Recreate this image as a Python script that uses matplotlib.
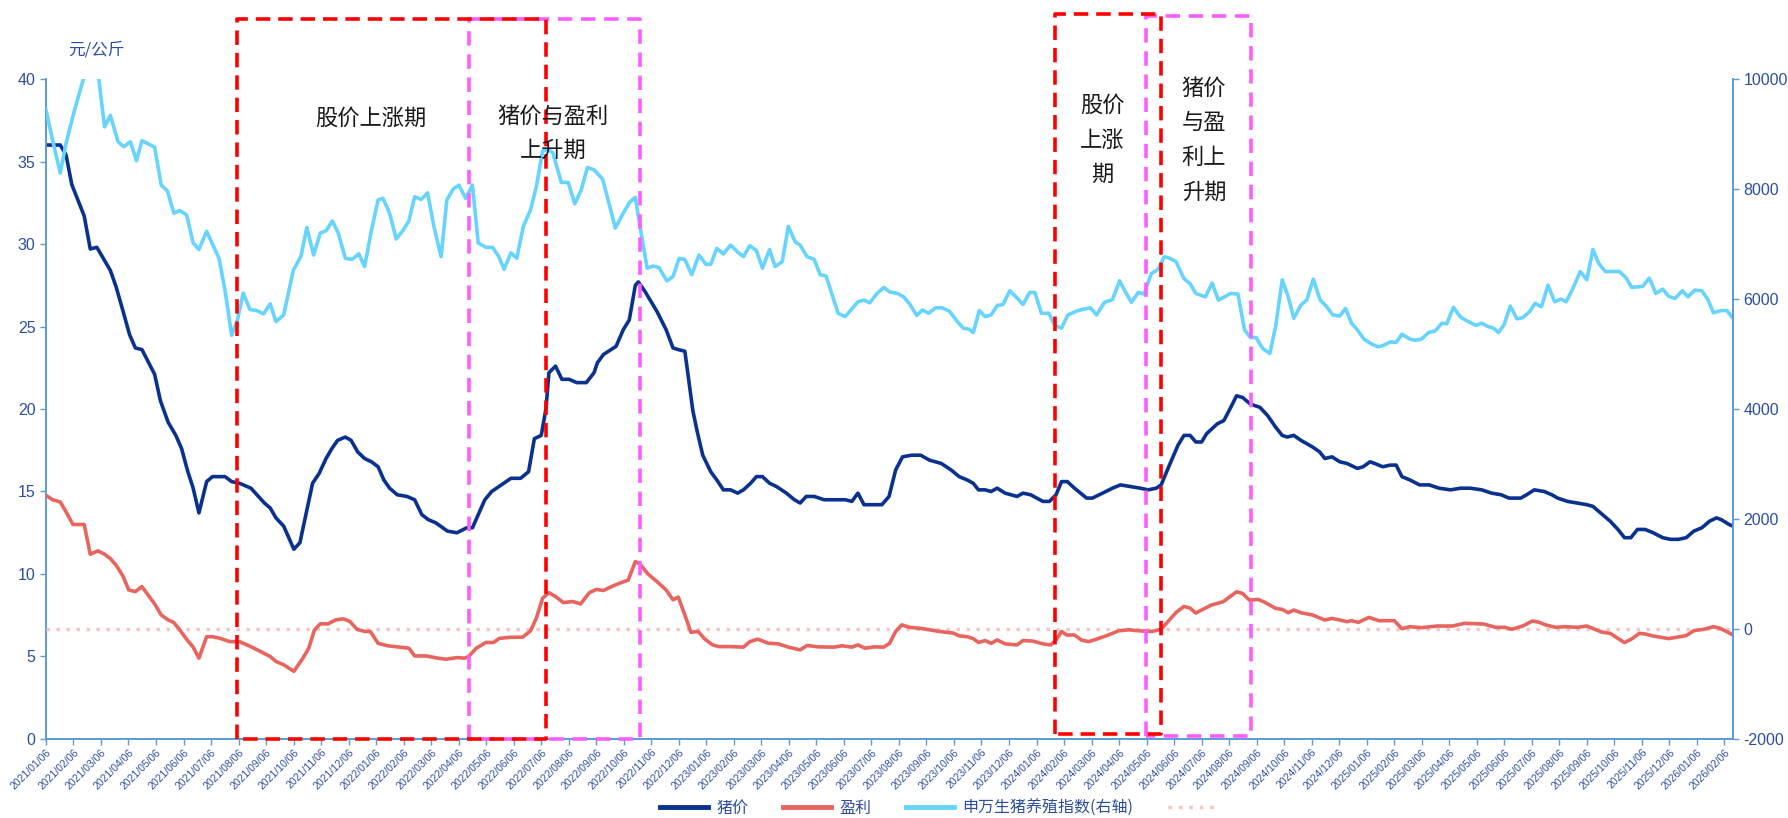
import matplotlib.pyplot as plt
from matplotlib.lines import Line2D
import matplotlib.transforms as mtransforms

plt.rcParams['font.family'] = ['Liberation Sans', 'Noto Sans CJK SC']
plt.rcParams['axes.unicode_minus'] = False

# x = months since 2021/01/06 (weekly data)
price_pts = [
    (0.00, 36.0), (0.52, 36.0), (0.73, 35.4), (0.94, 33.6), (1.39, 31.7), (1.61, 29.7), (1.85, 29.8), (2.34, 28.4), (2.55, 27.4), (2.79, 26.0),
    (3.04, 24.5), (3.25, 23.7), (3.49, 23.6), (3.95, 22.1), (4.16, 20.5), (4.44, 19.2), (4.72, 18.4), (4.93, 17.6), (5.14, 16.3), (5.35, 15.2),
    (5.56, 13.7), (5.84, 15.6), (6.05, 15.9), (6.51, 15.9), (6.75, 15.6), (7.03, 15.5), (7.45, 15.2), (7.94, 14.3), (8.15, 14.0), (8.36, 13.4),
    (8.64, 12.9), (9.01, 11.5), (9.23, 11.9), (9.69, 15.5), (9.93, 16.1), (10.18, 17.0), (10.39, 17.6), (10.60, 18.1), (10.88, 18.3), (11.09, 18.1),
    (11.33, 17.4), (11.58, 17.0), (11.83, 16.8), (12.07, 16.5), (12.28, 15.7), (12.49, 15.2), (12.77, 14.8), (13.12, 14.7), (13.40, 14.5), (13.66, 13.6),
    (13.89, 13.3), (14.17, 13.1), (14.59, 12.6), (14.94, 12.5), (15.29, 12.8), (15.50, 12.8), (15.95, 14.5), (16.20, 15.0), (16.55, 15.4), (16.90, 15.8),
    (17.25, 15.8), (17.54, 16.2), (17.75, 18.2), (18.00, 18.4), (18.17, 20.0), (18.28, 22.2), (18.52, 22.6), (18.75, 21.8), (19.01, 21.8), (19.29, 21.6),
    (19.64, 21.6), (19.92, 22.2), (20.04, 22.8), (20.26, 23.3), (20.72, 23.8), (20.98, 24.8), (21.20, 25.4), (21.42, 27.5), (21.53, 27.7), (21.78, 27.1),
    (22.21, 25.9), (22.54, 24.8), (22.79, 23.7), (22.98, 23.6), (23.22, 23.5), (23.51, 19.9), (23.66, 18.7), (23.87, 17.2), (24.16, 16.2), (24.38, 15.7),
    (24.62, 15.1), (24.88, 15.1), (25.14, 14.9), (25.35, 15.1), (25.61, 15.5), (25.82, 15.9), (26.04, 15.9), (26.30, 15.5), (26.55, 15.3), (26.91, 14.9),
    (27.20, 14.5), (27.41, 14.3), (27.63, 14.7), (27.92, 14.7), (28.28, 14.5), (28.64, 14.5), (29.05, 14.5), (29.29, 14.4), (29.51, 14.9), (29.73, 14.2),
    (30.09, 14.2), (30.38, 14.2), (30.64, 14.7), (30.88, 16.3), (31.13, 17.1), (31.46, 17.2), (31.79, 17.2), (32.11, 16.9), (32.54, 16.7), (32.90, 16.3),
    (33.19, 15.9), (33.48, 15.7), (33.70, 15.5), (33.89, 15.1), (34.13, 15.1), (34.35, 15.0), (34.57, 15.2), (34.86, 14.9), (35.29, 14.7), (35.51, 14.9),
    (35.79, 14.8), (36.23, 14.4), (36.47, 14.4), (36.71, 14.8), (36.91, 15.6), (37.12, 15.6), (37.38, 15.2), (37.82, 14.6), (38.03, 14.6), (38.40, 14.9),
    (38.76, 15.2), (39.05, 15.4), (39.41, 15.3), (39.77, 15.2), (40.06, 15.1), (40.35, 15.2), (40.53, 15.4), (40.78, 16.4), (41.14, 17.8), (41.36, 18.4),
    (41.58, 18.4), (41.79, 18.0), (42.00, 18.0), (42.18, 18.5), (42.57, 19.1), (42.81, 19.3), (43.06, 20.1), (43.27, 20.8), (43.49, 20.7), (43.77, 20.3),
    (44.12, 20.1), (44.40, 19.6), (44.69, 18.9), (44.93, 18.4), (45.11, 18.3), (45.35, 18.4), (45.61, 18.1), (46.03, 17.7), (46.29, 17.4), (46.48, 17.0),
    (46.74, 17.1), (47.02, 16.8), (47.28, 16.7), (47.66, 16.4), (47.87, 16.5), (48.12, 16.8), (48.29, 16.7), (48.58, 16.5), (48.86, 16.6), (49.07, 16.6),
    (49.28, 15.9), (49.57, 15.7), (49.92, 15.4), (50.27, 15.4), (50.63, 15.2), (51.05, 15.1), (51.41, 15.2), (51.76, 15.2), (52.18, 15.1), (52.54, 14.9),
    (52.89, 14.8), (53.17, 14.6), (53.60, 14.6), (53.81, 14.8), (54.09, 15.1), (54.45, 15.0), (54.73, 14.8), (54.94, 14.6), (55.30, 14.4), (55.65, 14.3),
    (56.00, 14.2), (56.22, 14.1), (56.57, 13.6), (56.85, 13.2), (57.13, 12.7), (57.37, 12.2), (57.60, 12.2), (57.84, 12.7), (58.12, 12.7), (58.41, 12.5),
    (58.76, 12.2), (59.04, 12.1), (59.33, 12.1), (59.61, 12.2), (59.89, 12.6), (60.18, 12.8), (60.46, 13.2), (60.71, 13.4), (60.88, 13.3), (61.17, 13.0),
    (61.31, 12.9),
]

profit_pts = [
    (0.00, 2430), (0.24, 2350), (0.52, 2310), (0.73, 2130), (0.98, 1900), (1.39, 1900), (1.61, 1360), (1.89, 1420), (2.13, 1360), (2.34, 1280),
    (2.55, 1160), (2.79, 970), (3.01, 710), (3.25, 680), (3.49, 770), (3.74, 600), (3.95, 455), (4.19, 255), (4.44, 165), (4.65, 116),
    (4.86, -15), (5.11, -185), (5.35, -330), (5.56, -530), (5.84, -140), (6.05, -140), (6.33, -170), (6.68, -230), (7.03, -230), (7.38, -305),
    (7.80, -410), (8.15, -500), (8.36, -590), (8.64, -650), (9.01, -770), (9.34, -530), (9.55, -350), (9.76, -15), (9.97, 93), (10.25, 93),
    (10.53, 165), (10.81, 185), (11.05, 135), (11.30, -5), (11.58, -45), (11.79, -45), (12.07, -260), (12.42, -305), (12.84, -330), (13.19, -350),
    (13.40, -490), (13.82, -490), (14.24, -530), (14.52, -550), (14.94, -520), (15.22, -530), (15.36, -500), (15.64, -350), (15.99, -245), (16.27, -245),
    (16.48, -170), (16.90, -150), (17.32, -150), (17.61, -35), (17.82, 195), (18.05, 560), (18.28, 660), (18.52, 590), (18.80, 480), (19.15, 500),
    (19.43, 455), (19.75, 660), (20.00, 720), (20.26, 700), (20.55, 770), (20.84, 830), (21.16, 890), (21.42, 1225), (21.59, 1180), (21.88, 1000),
    (22.21, 860), (22.54, 710), (22.79, 530), (22.98, 580), (23.22, 255), (23.44, -60), (23.70, -45), (23.95, -185), (24.23, -290), (24.45, -320),
    (24.88, -320), (25.35, -330), (25.58, -230), (25.87, -185), (26.26, -260), (26.62, -270), (26.98, -330), (27.41, -380), (27.66, -300), (28.06, -325),
    (28.64, -330), (28.93, -305), (29.29, -330), (29.51, -290), (29.77, -350), (30.09, -325), (30.45, -330), (30.66, -260), (30.88, -45), (31.10, 75),
    (31.39, 30), (31.82, 10), (32.11, -15), (32.47, -45), (32.98, -75), (33.19, -125), (33.48, -140), (33.70, -175), (33.89, -245), (34.13, -210),
    (34.35, -260), (34.57, -200), (34.86, -270), (35.29, -290), (35.51, -210), (35.87, -220), (36.23, -270), (36.52, -290), (36.71, -200), (36.91, -45),
    (37.10, -110), (37.38, -110), (37.63, -200), (37.89, -230), (38.18, -185), (38.61, -110), (38.97, -35), (39.34, -15), (39.77, -35), (40.20, -45),
    (40.53, -5), (40.78, 135), (41.07, 300), (41.36, 410), (41.58, 380), (41.79, 290), (42.00, 344), (42.35, 435), (42.78, 495), (43.06, 598),
    (43.27, 676), (43.49, 646), (43.74, 525), (44.05, 537), (44.26, 495), (44.69, 375), (44.93, 356), (45.15, 296), (45.35, 344), (45.61, 296),
    (46.03, 254), (46.48, 163), (46.74, 193), (47.02, 163), (47.28, 133), (47.45, 151), (47.70, 121), (48.08, 211), (48.44, 151), (49.00, 151),
    (49.28, 6), (49.57, 42), (49.99, 24), (50.56, 54), (51.12, 54), (51.55, 103), (52.25, 91), (52.68, 30), (53.03, 30), (53.27, -6),
    (53.67, 54), (54.02, 145), (54.23, 127), (54.52, 72), (54.87, 30), (55.22, 42), (55.65, 30), (56.00, 54), (56.29, -6), (56.57, -60),
    (56.85, -79), (57.13, -169), (57.37, -248), (57.63, -181), (57.91, -79), (58.12, -91), (58.41, -127), (58.97, -175), (59.26, -151), (59.61, -121),
    (59.89, -30), (60.25, -6), (60.60, 42), (60.81, 18), (61.09, -48), (61.31, -109),
]

index_pts = [
    (0.00, 9440), (0.24, 8890), (0.52, 8290), (0.73, 8830), (1.01, 9380), (1.19, 9700), (1.36, 10000), (1.55, 10500), (1.75, 10400), (1.92, 10000),
    (2.13, 9130), (2.34, 9340), (2.62, 8860), (2.83, 8770), (3.07, 8860), (3.29, 8515), (3.49, 8880), (3.95, 8760), (4.19, 8070), (4.41, 7970),
    (4.65, 7560), (4.86, 7610), (5.11, 7530), (5.35, 7020), (5.56, 6900), (5.84, 7230), (6.29, 6740), (6.51, 6150), (6.75, 5340), (6.96, 5620),
    (7.17, 6110), (7.41, 5810), (7.66, 5790), (7.91, 5730), (8.15, 5910), (8.36, 5590), (8.64, 5710), (8.99, 6520), (9.27, 6780), (9.48, 7300),
    (9.73, 6800), (9.97, 7200), (10.18, 7240), (10.41, 7420), (10.63, 7190), (10.88, 6740), (11.13, 6720), (11.37, 6820), (11.58, 6590), (11.83, 7250),
    (12.07, 7800), (12.25, 7830), (12.49, 7560), (12.73, 7090), (12.98, 7250), (13.19, 7420), (13.40, 7860), (13.64, 7810), (13.87, 7930), (14.10, 7320),
    (14.36, 6770), (14.57, 7800), (14.80, 8000), (15.01, 8070), (15.25, 7830), (15.50, 8070), (15.71, 7020), (15.99, 6940), (16.23, 6940), (16.46, 6770),
    (16.65, 6540), (16.90, 6840), (17.11, 6740), (17.35, 7320), (17.61, 7620), (17.82, 8040), (18.05, 8690), (18.24, 8720), (18.42, 8660), (18.73, 8120),
    (18.98, 8120), (19.22, 7730), (19.45, 7980), (19.68, 8390), (19.92, 8350), (20.23, 8180), (20.48, 7710), (20.69, 7290), (20.95, 7530), (21.20, 7750),
    (21.42, 7850), (21.59, 7320), (21.85, 6560), (22.07, 6600), (22.28, 6570), (22.57, 6330), (22.79, 6410), (23.01, 6740), (23.22, 6720), (23.47, 6440),
    (23.73, 6800), (23.99, 6630), (24.16, 6630), (24.38, 6920), (24.62, 6820), (24.88, 6980), (25.17, 6840), (25.35, 6770), (25.58, 6970), (25.82, 6880),
    (26.04, 6560), (26.30, 6900), (26.50, 6590), (26.76, 6680), (26.98, 7320), (27.23, 7040), (27.41, 6980), (27.66, 6770), (27.92, 6720), (28.14, 6440),
    (28.35, 6420), (28.79, 5740), (29.05, 5680), (29.51, 5950), (29.73, 5980), (29.94, 5930), (30.20, 6100), (30.45, 6210), (30.66, 6130), (30.95, 6100),
    (31.17, 6040), (31.39, 5910), (31.65, 5700), (31.85, 5800), (32.08, 5740), (32.33, 5840), (32.57, 5840), (32.83, 5780), (33.12, 5590), (33.34, 5470),
    (33.55, 5450), (33.70, 5390), (33.92, 5790), (34.13, 5680), (34.35, 5710), (34.57, 5880), (34.78, 5900), (35.03, 6150), (35.29, 6020), (35.51, 5900),
    (35.75, 6120), (35.94, 6120), (36.18, 5740), (36.45, 5740), (36.66, 5520), (36.91, 5470), (37.14, 5710), (37.46, 5780), (37.67, 5810), (37.96, 5840),
    (38.18, 5710), (38.47, 5940), (38.76, 5990), (39.02, 6330), (39.22, 6140), (39.45, 5940), (39.70, 6120), (39.91, 6090), (40.17, 6460), (40.42, 6540),
    (40.64, 6770), (40.85, 6740), (41.07, 6680), (41.36, 6370), (41.58, 6280), (41.79, 6100), (42.14, 6040), (42.38, 6290), (42.61, 5980), (43.06, 6100),
    (43.32, 6090), (43.56, 5440), (43.77, 5300), (43.98, 5300), (44.22, 5100), (44.48, 5010), (44.69, 5500), (44.93, 6350), (45.15, 6040), (45.35, 5650),
    (45.61, 5890), (45.82, 5980), (46.06, 6360), (46.31, 5980), (46.53, 5870), (46.77, 5710), (47.02, 5690), (47.23, 5830), (47.45, 5560), (47.66, 5440),
    (47.90, 5270), (48.15, 5190), (48.41, 5130), (48.58, 5150), (48.86, 5220), (49.07, 5210), (49.28, 5360), (49.57, 5270), (49.78, 5250), (49.99, 5270),
    (50.25, 5390), (50.49, 5420), (50.73, 5560), (50.91, 5550), (51.15, 5850), (51.41, 5670), (51.69, 5590), (51.97, 5520), (52.18, 5560), (52.40, 5500),
    (52.61, 5470), (52.79, 5390), (52.99, 5530), (53.22, 5870), (53.46, 5640), (53.67, 5660), (53.92, 5770), (54.12, 5920), (54.35, 5860), (54.59, 6250),
    (54.83, 5950), (55.06, 6000), (55.25, 5950), (55.51, 6210), (55.76, 6500), (56.00, 6350), (56.22, 6900), (56.43, 6650), (56.67, 6500), (57.18, 6500),
    (57.42, 6390), (57.63, 6210), (58.03, 6230), (58.27, 6380), (58.51, 6100), (58.76, 6180), (58.97, 6050), (59.21, 6010), (59.47, 6150), (59.68, 6040),
    (59.92, 6160), (60.18, 6150), (60.40, 5990), (60.60, 5750), (60.88, 5790), (61.09, 5790), (61.31, 5650),
]

price_x, price = zip(*price_pts)
profit_x, profit = zip(*profit_pts)
index_x, index = zip(*index_pts)

tick_labels = ['%d/%02d/06' % (2021 + i // 12, i % 12 + 1) for i in range(62)]

# highlighted periods (month positions)
red_boxes = [(6.93, 18.17), (36.69, 40.53)]
pink_boxes = [(15.36, 21.59), (39.99, 43.78)]

c_price = '#0b318f'
c_profit = '#e8645f'
c_index = '#66d4ff'
c_zero = '#f6c2c2'
c_axis = '#5b9bd5'
c_txt = '#2c4ea0'

fig = plt.figure(figsize=(17.88, 8.18), dpi=100)
ax = fig.add_axes([0.0257, 0.0966, 0.9435, 0.8068])
ax2 = ax.twinx()

ax.plot(price_x, price, color=c_price, lw=2.6)
ax2.axhline(0, color=c_zero, lw=2.4, ls=(0, (1, 2.0)))
ax2.plot(profit_x, profit, color=c_profit, lw=2.6)
ax2.plot(index_x, index, color=c_index, lw=2.6)

ax.set_xlim(0, 61.31)
ax.set_ylim(0, 40)
ax2.set_ylim(-2000, 10000)
ax.set_yticks(range(0, 41, 5))
ax2.set_yticks(range(-2000, 10001, 2000))
ax.set_xticks(range(62))
ax.set_xticklabels(tick_labels, rotation=45, ha='right', rotation_mode='anchor',
                   fontsize=7.5, color=c_txt)

for a in (ax, ax2):
    a.spines['top'].set_visible(False)
    for s in ('left', 'right', 'bottom'):
        a.spines[s].set_color(c_axis)
        a.spines[s].set_linewidth(1.4)
    a.tick_params(colors=c_axis, labelcolor=c_txt, labelsize=11.5, length=4, width=1)
ax.spines['right'].set_visible(False)
ax2.spines['left'].set_visible(False)
ax2.spines['bottom'].set_visible(False)
ax.tick_params(axis='x', labelsize=7.5, length=4, pad=2)

# dashed boxes, extending above the plot area
trans = mtransforms.blended_transform_factory(ax2.transData, ax2.transAxes)
box_y = [(0.0, 1.091), (0.0076, 1.098)]
pink_y = [(0.0, 1.091), (0.004, 1.096)]
for (x0, x1), (b, t) in zip(pink_boxes, pink_y):
    ax2.plot([x0, x0, x1, x1, x0], [b, t, t, b, b], transform=trans, clip_on=False,
             color='#ff5cff', lw=2.6, ls=(0, (4, 2.4)), zorder=5)
for (x0, x1), (b, t) in zip(red_boxes, box_y):
    ax2.plot([x0, x0, x1, x1, x0], [b, t, t, b, b], transform=trans, clip_on=False,
             color='#ff0000', lw=2.6, ls=(0, (4, 2.2)), zorder=6)

tkw = dict(fontsize=16, color='#1a1a1a', ha='center', va='center', zorder=7,
           family=['Noto Sans CJK SC'], linespacing=1.65)
ax2.text(11.81, 9280, '股价上涨期', **tkw)
ax2.text(18.43, 9015, '猪价与盈利\n上升期', **tkw)
ax2.text(38.40, 8890, '股价\n上涨\n期', **tkw)
ax2.text(42.09, 8890, '猪价\n与盈\n利上\n升期', **tkw)

fig.text(0.0537, 0.939, '元/公斤', color=c_txt, fontsize=12, ha='center', va='center',
         family=['Noto Sans CJK SC'])

handles = [Line2D([], [], color=c_price, lw=3.5),
           Line2D([], [], color=c_profit, lw=3.5),
           Line2D([], [], color=c_index, lw=3.5),
           Line2D([], [], color=c_zero, lw=2.5, ls=(0, (1, 2)))]
labels = ['猪价', '盈利', '申万生猪养殖指数(右轴)', '']
fig.legend(handles, labels, loc='lower center', bbox_to_anchor=(0.527, -0.016), ncol=4,
           frameon=False, handlelength=3, columnspacing=2.2,
           handletextpad=0.5, labelcolor=c_txt, prop={'family': ['Noto Sans CJK SC'], 'size': 11.5})

fig.savefig('out.png', dpi=100)
